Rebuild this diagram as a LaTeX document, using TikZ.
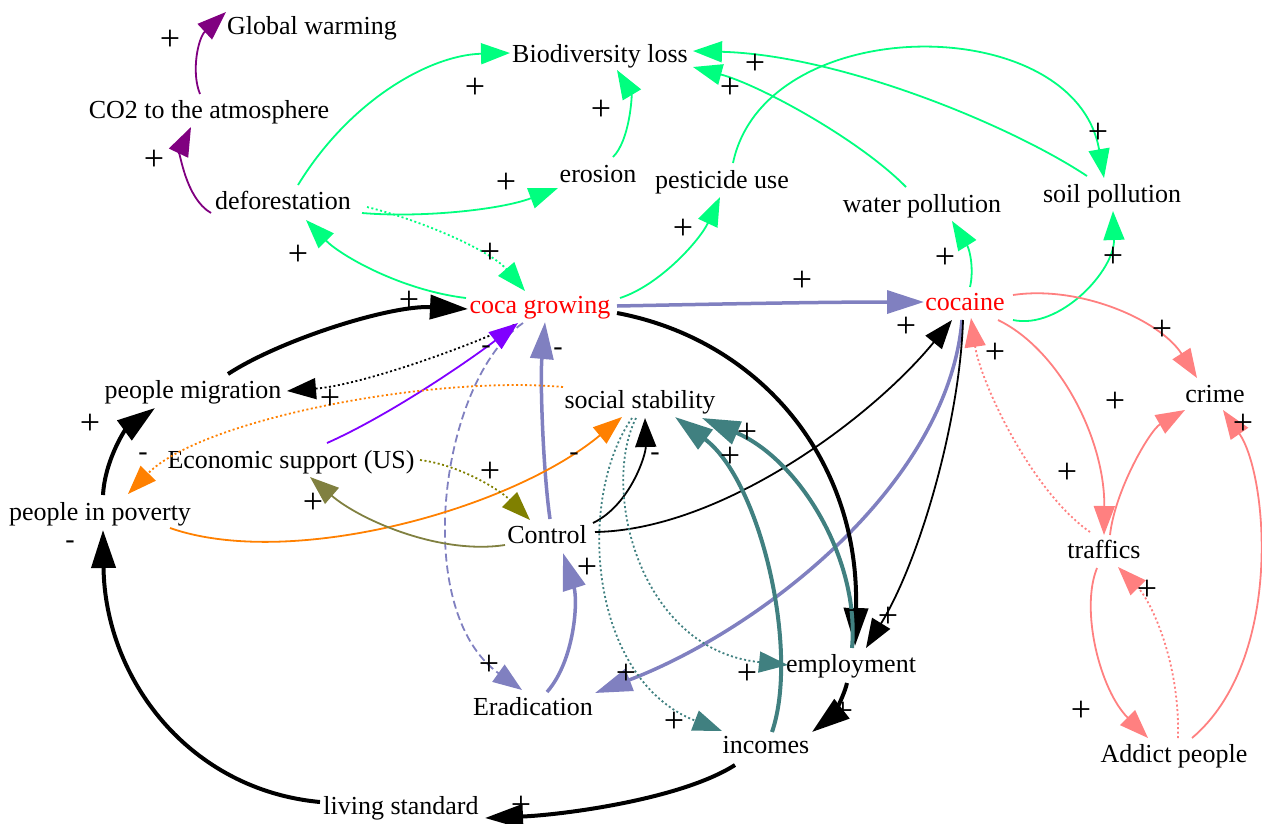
\documentclass[tikz,border=0pt]{standalone}
\usepackage{fontspec}
\setmainfont{Liberation Serif}
\usetikzlibrary{arrows.meta}
\definecolor{cpurple}{HTML}{800080}
\definecolor{cgreen}{HTML}{00FF7F}
\definecolor{cslate}{HTML}{8080C0}
\definecolor{cviolet}{HTML}{8000FF}
\definecolor{corange}{HTML}{FF8000}
\definecolor{colive}{HTML}{808000}
\definecolor{colivb}{HTML}{808040}
\definecolor{cteal}{HTML}{408080}
\definecolor{csalmon}{HTML}{FF8080}
\definecolor{cred}{HTML}{FF0000}
\begin{document}
\begin{tikzpicture}[x=1pt,y=-1pt,
  var/.style={inner sep=0pt, font=\fontsize{26}{28}\selectfont, text height=18pt, text depth=6pt},
  sgn/.style={inner sep=0pt, font=\fontsize{36}{36}\selectfont},
  sgm/.style={inner sep=0pt, font=\fontsize{28}{28}\selectfont},
  ethin/.style={line width=1.8pt, -{Triangle[length=29pt,width=21pt]}},
  ethick/.style={line width=4pt, -{Triangle[length=38pt,width=24pt]}},
  emed/.style={line width=3.5pt, -{Triangle[length=37pt,width=23pt]}},
  dotl/.style={dash pattern=on 2pt off 2.5pt},
  dshl/.style={dash pattern=on 8pt off 4pt}]
\useasboundingbox (0,0) rectangle (1262,823);

% nodes
\node[var] (gw) at (312,28) {Global warming};
\node[var] (co2) at (209,112) {CO2 to the atmosphere};
\node[var] (def) at (283,203) {deforestation};
\node[var] (bio) at (600,56) {Biodiversity loss};
\node[var] (ero) at (598,176) {erosion};
\node[var] (pest) at (722,182) {pesticide use};
\node[var] (water) at (922,206) {water pollution};
\node[var] (soil) at (1112,196) {soil pollution};
\node[var,text=cred] (coca) at (540,307) {coca growing};
\node[var,text=cred] (coc) at (965,304) {cocaine};
\node[var] (mig) at (193,392) {people migration};
\node[var] (soc) at (640,402) {social stability};
\node[var] (crime) at (1215,396) {crime};
\node[var] (econ) at (291,462) {Economic support (US)};
\node[var] (pov) at (100,514) {people in poverty};
\node[var] (ctrl) at (547,537) {Control};
\node[var] (traf) at (1104,552) {traffics};
\node[var] (emp) at (851,666) {employment};
\node[var] (erad) at (533,709) {Eradication};
\node[var] (inc) at (766,747) {incomes};
\node[var] (add) at (1174,756) {Addict people};
\node[var] (liv) at (401,808) {living standard};

% purple
\draw[ethin,cpurple] ([shift={(-9,-18)}]co2.center) .. controls (191,72) and (198,38) .. ([shift={(-86,-16)}]gw.center);
\draw[ethin,cpurple] ([shift={(-72,10)}]def.center) .. controls (185,198) and (180,150) .. ([shift={(-18,15)}]co2.center);

% green
\draw[ethin,cgreen] ([shift={(15,-18)}]def.center) .. controls (350,100) and (430,55) .. ([shift={(-90,-3)}]bio.center);
\draw[ethin,cgreen] ([shift={(79,10)}]def.center) .. controls (420,218) and (500,210) .. ([shift={(-40,12)}]ero.center);
\draw[ethin,cgreen,dotl] ([shift={(84,4)}]def.center) .. controls (420,220) and (490,250) .. ([shift={(-15,-16)}]coca.center);
\draw[ethin,cgreen] ([shift={(-74,-9)}]coca.center) .. controls (400,290) and (340,255) .. ([shift={(23,17)}]def.center);
\draw[ethin,cgreen] ([shift={(15,-19)}]ero.center) .. controls (630,140) and (632,95) .. ([shift={(17,14)}]bio.center);
\draw[ethin,cgreen] ([shift={(80,-9)}]coca.center) .. controls (660,285) and (700,240) .. ([shift={(-2,15)}]pest.center);
\draw[ethin,cgreen] ([shift={(11,-19)}]pest.center) .. controls (765,10) and (1075,10) .. ([shift={(-8,-18)}]soil.center);
\draw[ethin,cgreen] ([shift={(-25,-20)}]soil.center) .. controls (1010,125) and (840,55) .. ([shift={(93,-5)}]bio.center);
\draw[ethin,cgreen] ([shift={(-16,-19)}]water.center) .. controls (860,140) and (760,85) .. ([shift={(93,11)}]bio.center);
\draw[ethin,cgreen] ([shift={(5,-17)}]coc.center) .. controls (974,270) and (970,250) .. ([shift={(30,15)}]water.center);
\draw[ethin,cgreen] ([shift={(48,16)}]coc.center) .. controls (1060,330) and (1115,270) .. ([shift={(1,15)}]soil.center);

% slate blue
\draw[emed,cslate] ([shift={(77,-1)}]coca.center) .. controls (720,304) and (820,302) .. ([shift={(-41,-2)}]coc.center);
\draw[ethin,cslate,dshl] ([shift={(-17,16)}]coca.center) .. controls (440,380) and (410,610) .. ([shift={(-11,-19)}]erad.center);
\draw[emed,cslate] ([shift={(3,-18)}]ctrl.center) .. controls (543,470) and (540,380) .. ([shift={(5,15)}]coca.center);
\draw[emed,cslate] ([shift={(14,-17)}]erad.center) .. controls (575,660) and (578,600) .. ([shift={(16,16)}]ctrl.center);
\draw[emed,cslate] ([shift={(-3,16)}]coc.center) .. controls (948,485) and (760,630) .. ([shift={(62,-16)}]erad.center);

% black
\draw[ethick,black] ([shift={(35,-18)}]mig.center) .. controls (280,340) and (390,305) .. ([shift={(-72,2)}]coca.center);
\draw[ethin,black,dotl] ([shift={(-26,18)}]coca.center) .. controls (460,350) and (360,385) .. ([shift={(94,-1)}]mig.center);
\draw[ethick,black] ([shift={(77,6)}]coca.center) .. controls (760,340) and (860,460) .. ([shift={(4,-20)}]emp.center);
\draw[ethin,black] ([shift={(-2,16)}]coc.center) .. controls (960,420) and (920,560) .. ([shift={(15,-18)}]emp.center);
\draw[ethick,black] ([shift={(-4,17)}]emp.center) .. controls (843,700) and (830,718) .. ([shift={(46,-15)}]inc.center);
\draw[ethick,black] ([shift={(-31,18)}]inc.center) .. controls (680,800) and (560,815) .. ([shift={(84,10)}]liv.center);
\draw[ethick,black] ([shift={(-81,-6)}]liv.center) .. controls (190,790) and (105,680) .. ([shift={(3,16)}]pov.center);
\draw[ethick,black] ([shift={(3,-19)}]pov.center) .. controls (105,460) and (125,430) .. ([shift={(-38,16)}]mig.center);
\draw[ethin,black] ([shift={(46,-14)}]ctrl.center) .. controls (630,505) and (646,455) .. ([shift={(5,16)}]soc.center);
\draw[ethin,black] ([shift={(48,-5)}]ctrl.center) .. controls (720,530) and (870,420) .. ([shift={(-13,16)}]coc.center);

% violet, orange, olive
\draw[ethin,cviolet] ([shift={(36,-19)}]econ.center) .. controls (390,415) and (470,360) .. ([shift={(-22,16)}]coca.center);
\draw[ethin,corange,dotl] ([shift={(-77,-15)}]soc.center) .. controls (430,375) and (200,420) .. ([shift={(28,-20)}]pov.center);
\draw[ethin,corange] ([shift={(70,14)}]pov.center) .. controls (290,570) and (510,510) .. ([shift={(-18,15)}]soc.center);
\draw[ethin,colive,dotl] ([shift={(129,-2)}]econ.center) .. controls (460,465) and (500,490) .. ([shift={(-17,-17)}]ctrl.center);
\draw[ethin,colivb] ([shift={(-42,8)}]ctrl.center) .. controls (440,555) and (360,520) .. ([shift={(19,15)}]econ.center);

% teal
\draw[ethin,cteal,dotl] ([shift={(-4,16)}]soc.center) .. controls (600,490) and (640,650) .. ([shift={(-63,-1)}]emp.center);
\draw[ethin,cteal,dotl] ([shift={(-8,16)}]soc.center) .. controls (575,500) and (590,680) .. ([shift={(-44,-16)}]inc.center);
\draw[ethick,cteal] ([shift={(6,-15)}]inc.center) .. controls (800,650) and (760,480) .. ([shift={(35,15)}]soc.center);
\draw[ethick,cteal] ([shift={(1,-18)}]emp.center) .. controls (860,560) and (800,460) .. ([shift={(62,16)}]soc.center);

% salmon
\draw[ethin,csalmon] ([shift={(48,-9)}]coc.center) .. controls (1080,285) and (1160,320) .. ([shift={(-18,-18)}]crime.center);
\draw[ethin,csalmon] ([shift={(33,16)}]coc.center) .. controls (1060,350) and (1105,440) .. ([shift={(0,-17)}]traf.center);
\draw[ethin,csalmon,dotl] ([shift={(-14,-20)}]traf.center) .. controls (1030,490) and (980,380) .. ([shift={(6,14)}]coc.center);
\draw[ethin,csalmon] ([shift={(6,-17)}]traf.center) .. controls (1115,490) and (1150,430) .. ([shift={(-30,14)}]crime.center);
\draw[ethin,csalmon] ([shift={(-7,16)}]traf.center) .. controls (1080,610) and (1100,690) .. ([shift={(-26,-18)}]add.center);
\draw[ethin,csalmon,dotl] ([shift={(4,-18)}]add.center) .. controls (1180,660) and (1150,600) .. ([shift={(14,15)}]traf.center);
\draw[ethin,csalmon] ([shift={(18,-18)}]add.center) .. controls (1284,660) and (1268,475) .. ([shift={(8,14)}]crime.center);

% sign labels
\node[sgn] (s1) at (170,40) {+};
\node[sgn] (s2) at (154,160) {+};
\node[sgn] (s3) at (475,88) {+};
\node[sgn] (s4) at (506,183) {+};
\node[sgn] (s5) at (490,253) {+};
\node[sgn] (s6) at (298,255) {+};
\node[sgn] (s7) at (601,110) {+};
\node[sgn] (s8) at (683,229) {+};
\node[sgn] (s9) at (1098,133) {+};
\node[sgn] (s10) at (755,64) {+};
\node[sgn] (s11) at (730,88) {+};
\node[sgn] (s12) at (945,258) {+};
\node[sgn] (s13) at (1113,257) {+};
\node[sgn] (s14) at (802,281) {+};
\node[sgn] (s15) at (489,665) {+};
\node[sgm] (s16) at (558,352) {-};
\node[sgn] (s17) at (587,568) {+};
\node[sgn] (s18) at (626,674) {+};
\node[sgn] (s19) at (409,301) {+};
\node[sgn] (s20) at (330,399) {+};
\node[sgn] (s21) at (856,612) {+};
\node[sgn] (s22) at (888,617) {+};
\node[sgn] (s23) at (843,712) {+};
\node[sgn] (s24) at (521,806) {+};
\node[sgm] (s25) at (70,545) {-};
\node[sgn] (s26) at (90,424) {+};
\node[sgm] (s27) at (655,457) {-};
\node[sgn] (s28) at (906,327) {+};
\node[sgm] (s29) at (486,350) {-};
\node[sgm] (s30) at (143,457) {-};
\node[sgm] (s31) at (574,457) {-};
\node[sgn] (s32) at (490,472) {+};
\node[sgn] (s33) at (313,503) {+};
\node[sgn] (s34) at (747,674) {+};
\node[sgn] (s35) at (674,722) {+};
\node[sgn] (s36) at (730,457) {+};
\node[sgn] (s37) at (747,433) {+};
\node[sgn] (s38) at (1162,330) {+};
\node[sgn] (s39) at (1115,402) {+};
\node[sgn] (s40) at (995,353) {+};
\node[sgn] (s41) at (1067,473) {+};
\node[sgn] (s42) at (1081,711) {+};
\node[sgn] (s43) at (1147,590) {+};
\node[sgn] (s44) at (1243,424) {+};
\end{tikzpicture}
\end{document}
